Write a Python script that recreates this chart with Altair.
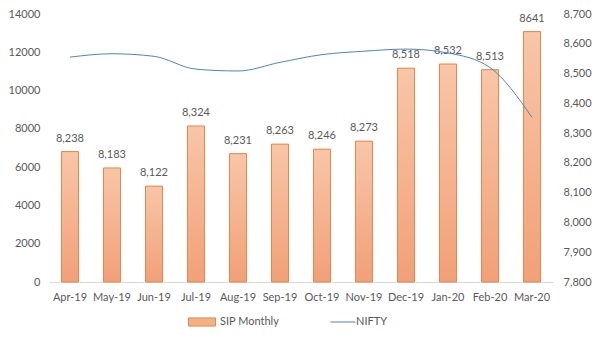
import altair as alt
import pandas as pd

months = ["Apr-19", "May-19", "Jun-19", "Jul-19", "Aug-19", "Sep-19",
          "Oct-19", "Nov-19", "Dec-19", "Jan-20", "Feb-20", "Mar-20"]
sip = [8238, 8183, 8122, 8324, 8231, 8263, 8246, 8273, 8518, 8532, 8513, 8641]
sip_labels = ["8,238", "8,183", "8,122", "8,324", "8,231", "8,263",
              "8,246", "8,273", "8,518", "8,532", "8,513", "8641"]
nifty = [11748, 11923, 11789, 11118, 11023, 11474, 11877, 12056, 12168, 11962, 11202, 8598]
left_ticks = [0, 2000, 4000, 6000, 8000, 10000, 12000, 14000]
right_ticks = [7800, 7900, 8000, 8100, 8200, 8300, 8400, 8500, 8600, 8700]

df = pd.DataFrame({
    "month": months,
    "sip": sip,
    "lbl": sip_labels,
    "nifty": nifty,
    "s1": ["SIP Monthly"] * len(months),
    "s2": ["NIFTY"] * len(months),
})

FONT = "Lato"
GRAY = "#595959"

x_enc = alt.X("month:N", sort=months, title=None,
              scale=alt.Scale(paddingInner=0, paddingOuter=0),
              axis=alt.Axis(labelAngle=0, ticks=False, domainColor="#D9D9D9",
                            labelPadding=9, labelColor=GRAY, labelFontSize=11,
                            labelFont=FONT))

right_scale = alt.Scale(domain=[7800, 8700], zero=False, nice=False)
right_axis = alt.Axis(orient="right", values=right_ticks,
                      labelExpr="format(datum.value, ',')", grid=False,
                      ticks=False, domain=False, labelPadding=10, labelColor=GRAY,
                      labelFontSize=11, labelFont=FONT, title=None)

base = alt.Chart(df).encode(x=x_enc)

bars_legend = base.mark_bar(size=17).encode(
    y=alt.Y("sip:Q", scale=right_scale, axis=right_axis, title=None),
    y2=alt.datum(7800),
    color=alt.Color("s1:N", scale=alt.Scale(domain=["SIP Monthly"], range=["#F4B183"]),
                    legend=alt.Legend(orient="none", legendX=139, legendY=294, title=None,
                                      padding=0, symbolType="M-1,-0.3H1V0.3H-1Z",
                                      symbolSize=729, symbolStrokeColor="#E3874A",
                                      symbolStrokeWidth=1, labelFontSize=11,
                                      labelColor=GRAY, labelFont=FONT)),
)

grad = alt.Gradient(gradient="linear", x1=0, x2=0, y1=0, y2=1,
                    stops=[alt.GradientStop(color="#F8C6A8", offset=0),
                           alt.GradientStop(color="#F2A077", offset=1)])

bars_grad = base.mark_bar(size=17, fill=grad, stroke="#E3874A", strokeWidth=1).encode(
    y=alt.Y("sip:Q", scale=right_scale, axis=right_axis, title=None),
    y2=alt.datum(7800),
)

texts = base.mark_text(dy=-8, baseline="bottom", fontSize=11, color=GRAY, font=FONT).encode(
    y=alt.Y("sip:Q", scale=right_scale, axis=right_axis, title=None),
    text="lbl:N",
)

line = base.mark_line(interpolate="monotone", strokeWidth=1).encode(
    y=alt.Y("nifty:Q", scale=alt.Scale(domain=[0, 14000], nice=False),
            axis=alt.Axis(orient="left", values=left_ticks, format="d", grid=False,
                          ticks=False, domain=False, labelPadding=9, labelColor=GRAY,
                          labelFontSize=11, labelFont=FONT, title=None)),
    stroke=alt.Stroke("s2:N", scale=alt.Scale(domain=["NIFTY"], range=["#4E86B8"]),
                      legend=alt.Legend(orient="none", legendX=272, legendY=295, title=None,
                                        padding=0, symbolType="stroke", symbolSize=625,
                                        symbolOffset=9, symbolStrokeWidth=1, labelOffset=0,
                                        labelFontSize=11, labelColor=GRAY, labelFont=FONT)),
)

bar_group = alt.layer(bars_legend, bars_grad, texts)

chart = alt.layer(bar_group, line).resolve_scale(
    y="independent", color="independent", stroke="independent"
).properties(
    width=504, height=268,
    autosize=alt.AutoSizeParams(type="none"),
    padding={"left": 49, "top": 14, "right": 45, "bottom": 60},
).configure(font=FONT).configure_view(stroke=None)

chart.save("out.html", embed_options={"renderer": "svg", "actions": False})
